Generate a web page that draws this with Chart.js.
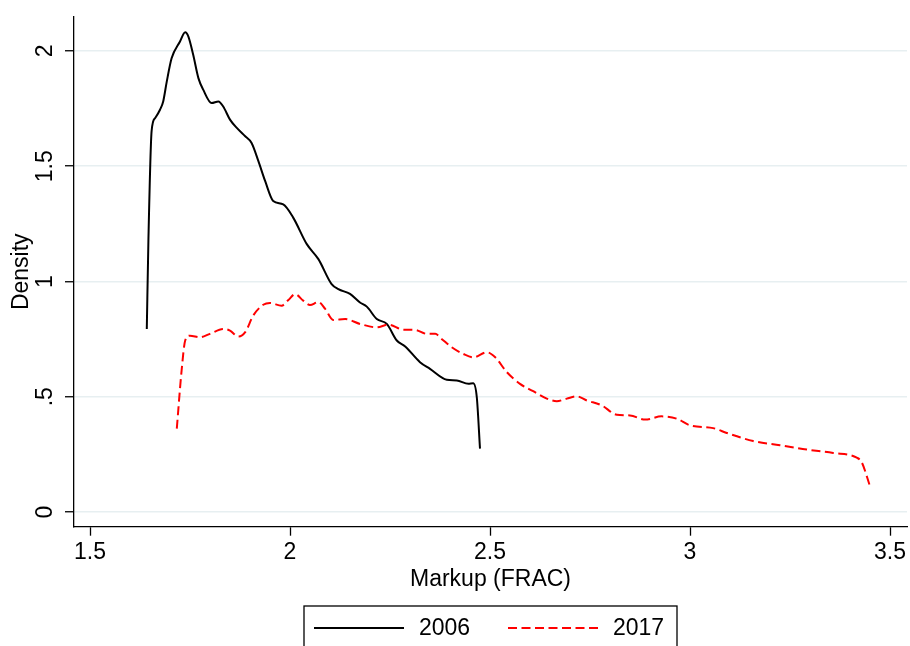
<!DOCTYPE html>
<html>
<head>
<meta charset="utf-8">
<title>Markup density</title>
<script src="https://cdn.jsdelivr.net/npm/chart.js@4.4.1/dist/chart.umd.min.js"></script>
<style>
  html, body { margin: 0; padding: 0; background: #fff; }
  #chart { display: block; }
</style>
</head>
<body>
<canvas id="chart" width="910" height="646"></canvas>
<script>
// kernel density of markups, two years
const markup2006 = [1.642, 1.646, 1.654, 1.663, 1.675, 1.683, 1.692, 1.704, 1.725, 1.738,
    1.746, 1.758, 1.771, 1.783, 1.804, 1.821, 1.833, 1.850, 1.867, 1.888,
    1.904, 1.921, 1.938, 1.958, 1.983, 2.008, 2.042, 2.071, 2.104, 2.121,
    2.150, 2.175, 2.192, 2.217, 2.242, 2.267, 2.288, 2.325, 2.350, 2.392,
    2.417, 2.446, 2.458, 2.467, 2.475];
const density2006 = [0.794, 1.176, 1.652, 1.709, 1.745, 1.781, 1.868, 1.968, 2.041, 2.081,
    2.062, 1.983, 1.882, 1.832, 1.774, 1.781, 1.759, 1.702, 1.666, 1.630,
    1.601, 1.522, 1.435, 1.349, 1.334, 1.277, 1.162, 1.097, 0.989, 0.967,
    0.946, 0.909, 0.891, 0.837, 0.816, 0.744, 0.718, 0.650, 0.621, 0.574,
    0.571, 0.556, 0.559, 0.498, 0.275];

const markup2017 = [1.717, 1.729, 1.738, 1.750, 1.775, 1.800, 1.833, 1.850, 1.871, 1.888,
    1.908, 1.933, 1.950, 1.979, 1.996, 2.013, 2.033, 2.050, 2.071, 2.088,
    2.108, 2.138, 2.175, 2.217, 2.246, 2.283, 2.313, 2.342, 2.363, 2.379,
    2.404, 2.433, 2.458, 2.492, 2.513, 2.542, 2.575, 2.608, 2.642, 2.667,
    2.692, 2.717, 2.742, 2.779, 2.817, 2.850, 2.888, 2.929, 2.967, 3.000,
    3.058, 3.092, 3.158, 3.225, 3.292, 3.358, 3.417, 3.429, 3.450];
const density2017 = [0.362, 0.614, 0.744, 0.765, 0.758, 0.773, 0.794, 0.787, 0.761, 0.780,
    0.852, 0.899, 0.907, 0.895, 0.920, 0.945, 0.917, 0.898, 0.911, 0.881,
    0.833, 0.837, 0.816, 0.801, 0.813, 0.791, 0.790, 0.773, 0.773, 0.751,
    0.715, 0.686, 0.671, 0.693, 0.671, 0.607, 0.556, 0.524, 0.492, 0.481,
    0.492, 0.502, 0.484, 0.463, 0.422, 0.419, 0.401, 0.415, 0.405, 0.376,
    0.364, 0.343, 0.308, 0.290, 0.271, 0.256, 0.236, 0.217, 0.112];

const xTicks = [1.5, 2, 2.5, 3, 3.5];
const yTicks = [0, 0.5, 1, 1.5, 2];
const seriesNames = ['2006', '2017'];

const FONT = { family: "'Liberation Sans', Arial, Helvetica, sans-serif", size: 23 };

function toPoints(xs, ys) {
    return xs.map((x, i) => ({ x: x, y: ys[i] }));
}

// boxed legend under the x title, centred on the plot
const boxedLegend = {
    id: 'boxedLegend',
    afterDraw(chart) {
        const ctx = chart.ctx;
        const area = chart.chartArea;
        const cx = (area.left + area.right) / 2;
        const w = 373, top = 606, rowY = 628;
        const left = cx - w / 2;
        ctx.save();
        ctx.strokeStyle = '#000';
        ctx.lineWidth = 1.3;
        ctx.strokeRect(left, top, w, 60);
        ctx.font = FONT.size + 'px ' + FONT.family;
        ctx.textBaseline = 'middle';
        ctx.textAlign = 'left';
        const slots = [10, 204];
        chart.data.datasets.forEach((ds, i) => {
            const x0 = left + slots[i];
            ctx.strokeStyle = ds.borderColor;
            ctx.lineWidth = ds.borderWidth;
            ctx.setLineDash(ds.borderDash || []);
            ctx.beginPath();
            ctx.moveTo(x0, rowY);
            ctx.lineTo(x0 + 90, rowY);
            ctx.stroke();
            ctx.setLineDash([]);
            ctx.fillStyle = '#000';
            ctx.fillText(ds.label, x0 + 105, rowY + 1);
        });
        ctx.restore();
    }
};

const ctx = document.getElementById('chart').getContext('2d');
const densityChart = new Chart(ctx, {
    type: 'line',
    data: {
        datasets: [
            {
                label: seriesNames[0],
                data: toPoints(markup2006, density2006),
                borderColor: '#000000',
                borderWidth: 2,
                pointRadius: 0,
                cubicInterpolationMode: 'monotone',
                fill: false,
                order: 1
            },
            {
                label: seriesNames[1],
                data: toPoints(markup2017, density2017),
                borderColor: '#ff0000',
                borderWidth: 2,
                borderDash: [9, 4.5],
                pointRadius: 0,
                cubicInterpolationMode: 'monotone',
                fill: false,
                order: 0
            }
        ]
    },
    options: {
        responsive: false,
        animation: false,
        devicePixelRatio: 1,
        layout: { padding: { left: 0, top: 15, right: 3, bottom: 46 } },
        plugins: {
            legend: { display: false },
            tooltip: { enabled: false }
        },
        scales: {
            x: {
                type: 'linear',
                min: 1.46,
                max: 3.5425,
                afterBuildTicks: (scale) => { scale.ticks = xTicks.map(v => ({ value: v })); },
                afterFit: (scale) => { scale.height = 73.3; },
                border: { display: true, color: '#000', width: 1.3 },
                grid: { drawOnChartArea: false, tickLength: 9, tickColor: '#000', tickWidth: 1.3 },
                ticks: {
                    color: '#000',
                    font: FONT,
                    padding: 3,
                    maxRotation: 0,
                    callback: (v) => String(v)
                },
                title: {
                    display: true,
                    text: 'Markup (FRAC)',
                    color: '#000',
                    font: FONT,
                    padding: { top: 0, bottom: 7 }
                }
            },
            y: {
                type: 'linear',
                min: -0.0635,
                max: 2.148,
                afterBuildTicks: (scale) => { scale.ticks = yTicks.map(v => ({ value: v })); },
                afterFit: (scale) => { scale.width = 74; },
                border: { display: true, color: '#000', width: 1.3 },
                grid: {
                    color: '#e7eff1',
                    lineWidth: 1.5,
                    tickLength: 9,
                    tickColor: '#000',
                    tickWidth: 1.3
                },
                ticks: {
                    color: '#000',
                    font: FONT,
                    padding: 3,
                    minRotation: 90,
                    maxRotation: 90,
                    crossAlign: 'center',
                    callback: (v) => String(v).replace(/^0\./, '.')
                },
                title: {
                    display: true,
                    text: 'Density',
                    color: '#000',
                    font: FONT,
                    padding: { top: 8, bottom: 0 }
                }
            }
        }
    },
    plugins: [boxedLegend]
});
</script>
</body>
</html>
